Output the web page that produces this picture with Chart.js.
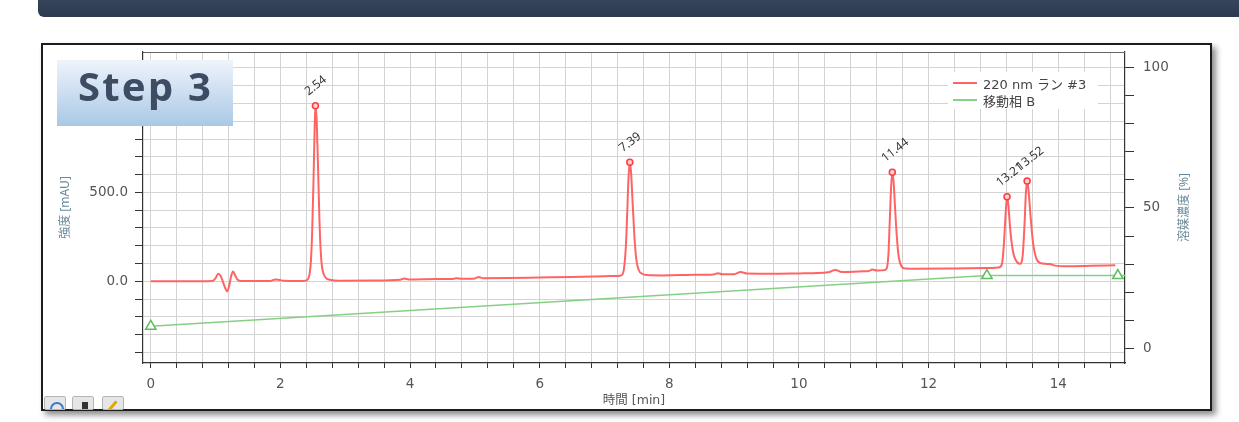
<!DOCTYPE html>
<html lang="ja">
<head>
<meta charset="utf-8">
<title>Step 3 クロマトグラム</title>
<script src="https://cdn.jsdelivr.net/npm/chart.js@4.4.1/dist/chart.umd.min.js"></script>
<style>
  html, body { margin: 0; padding: 0; background: #fff; }
  body { width: 1239px; height: 422px; position: relative; overflow: hidden;
         font-family: "Noto Sans", "Noto Sans CJK JP", sans-serif; }
  #topbar { position: absolute; left: 38px; top: -12px; width: 1230px; height: 29px;
            background: linear-gradient(#3d4c64, #2c3a50); border-radius: 6px; }
  #frame { position: absolute; left: 41px; top: 43px; width: 1167px; height: 364px;
           border: 2px solid #1c1c1c; background: #fff;
           box-shadow: 4px 4px 6px rgba(0,0,0,0.45); }
  #chartBox { position: absolute; left: 0; top: 0; width: 1239px; height: 422px; }
  #badge { position: absolute; left: 57px; top: 60px; width: 176px; height: 66px;
           background: linear-gradient(#eef4fb, #a9c8e6); }
  #badge span { position: absolute; left: 21px; top: 6px; line-height: 40px;
                font-size: 40px; font-weight: bold; color: #3e4c63; letter-spacing: 2.2px; }
  #legend { position: absolute; left: 948px; top: 72px; width: 150px; height: 37px;
            background: #fff; font-size: 13px; color: #444;
            font-family: "DejaVu Sans", "Noto Sans CJK JP", sans-serif; }
  .lg-row { position: absolute; left: 5px; height: 16px; display: flex; align-items: center; }
  .lg-line { width: 24px; height: 2px; margin-right: 6px; }
  .tool { position: absolute; top: 396px; width: 22px; height: 14px; background: #e6e6e6;
          border: 1px solid #b5b5b5; border-radius: 2px; box-sizing: border-box; overflow: hidden; }
</style>
</head>
<body>
<div id="topbar"></div>
<div id="frame"></div>
<div id="chartBox"><canvas id="chart"></canvas></div>
<div id="badge"><span>Step 3</span></div>
<div id="legend"></div>
<div class="tool" style="left:44px"><div style="position:absolute;left:5px;top:5px;width:10px;height:10px;border:2px solid #3a78c8;border-radius:50%"></div></div>
<div class="tool" style="left:72px"><div style="position:absolute;left:9px;top:5px;width:6px;height:8px;background:#333"></div></div>
<div class="tool" style="left:102px"><div style="position:absolute;left:8px;top:3px;width:3px;height:12px;background:#e0a800;transform:rotate(40deg)"></div></div>
<script>
// 220 nm detector trace, run #3
const traceTimes = [
  0, 0.5, 0.95, 1.0, 1.04, 1.08, 1.12, 1.15, 1.18, 1.21, 1.24, 1.27, 1.30, 1.34, 1.40,
  1.6, 1.85, 1.92, 1.97, 2.05, 2.3, 2.38, 2.42, 2.45, 2.47, 2.49, 2.51, 2.53, 2.54,
  2.56, 2.58, 2.60, 2.62, 2.64, 2.67, 2.71, 2.78, 2.9, 3.4, 3.85, 3.91, 3.98, 4.4,
  4.66, 4.72, 4.8, 5.0, 5.06, 5.13, 5.5, 6.0, 6.5, 7.0, 7.2, 7.26, 7.30, 7.33, 7.35,
  7.37, 7.39, 7.41, 7.43, 7.46, 7.49, 7.53, 7.58, 7.66, 7.9, 8.4, 8.68, 8.75, 8.82,
  9.0, 9.1, 9.2, 9.6, 10.0, 10.45, 10.56, 10.66, 11.0, 11.08, 11.13, 11.2, 11.3,
  11.35, 11.38, 11.40, 11.42, 11.44, 11.46, 11.48, 11.51, 11.54, 11.58, 11.64, 11.8,
  12.4, 12.9, 13.08, 13.13, 13.16, 13.19, 13.21, 13.23, 13.26, 13.30, 13.35, 13.41,
  13.45, 13.48, 13.50, 13.52, 13.54, 13.57, 13.61, 13.66, 13.72, 13.80, 13.87, 13.95,
  14.1, 14.5, 14.88
];
const traceSignal = [
  0, 0, 2, 18, 42, 28, -10, -40, -57, -25, 30, 55, 35, 8, 1,
  1, 2, 10, 9, 3, 2, 3, 10, 40, 110, 280, 560, 890, 988,
  900, 650, 370, 180, 85, 38, 16, 7, 3, 4, 9, 15, 10, 12,
  13, 17, 14, 16, 24, 17, 18, 21, 24, 28, 30, 33, 70, 200, 380,
  580, 669, 610, 470, 260, 125, 62, 42, 35, 33, 36, 38, 45, 39,
  40, 52, 43, 42, 44, 50, 64, 52, 56, 58, 66, 60, 62,
  70, 150, 330, 520, 613, 560, 430, 250, 135, 85, 72, 70,
  72, 75, 78, 95, 200, 390, 475, 430, 290, 170, 115, 98,
  140, 320, 490, 564, 520, 380, 220, 130, 103, 98, 97, 88,
  85, 87, 90
];

// Detected peaks: retention time [min] and apex height [mAU]
const peakTimes = [2.54, 7.39, 11.44, 13.21, 13.52];
const peakHeights = [988, 669, 613, 475, 564];

// Mobile phase B program
const gradientTimes = [0, 12.9, 14.92, 15.03];
const gradientPercent = [8, 26, 26, 26];
const gradientMarkers = [true, true, true, false];

// Series names and axis titles
const seriesNames = ['220 nm ラン #3', '移動相 B'];
const xAxisTitle = '時間 [min]';
const yAxisTitle = '強度 [mAU]';
const y2AxisTitle = '溶媒濃度 [%]';

// Tick layout
const xTickStep = 0.4, xTickLast = 14.8, xLabelEvery = 2;
const yTickStep = 100, yTickFirst = -400, yTickLast = 1200, yLabelEvery = 500;
const y2TickStep = 10, y2TickLast = 100, y2LabelEvery = 50;

const redColor = '#ff6464';
const greenColor = '#86d086';
const FONT = "'Noto Sans', 'Noto Sans CJK JP', sans-serif";
const TICK_FONT = "'DejaVu Sans', 'Noto Sans CJK JP', sans-serif";

function tickList(first, last, step) {
  const out = [];
  const n = Math.round((last - first) / step);
  for (let k = 0; k <= n; k++) out.push({ value: Math.round((first + k * step) * 1000) / 1000 });
  return out;
}
function isMultiple(v, m) { return Math.abs(v / m - Math.round(v / m)) < 1e-6; }

const peakLabels = {
  id: 'peakLabels',
  afterDatasetsDraw(chart) {
    const { ctx, scales: { x, y } } = chart;
    ctx.save();
    ctx.font = '12px ' + FONT;
    ctx.fillStyle = '#333';
    ctx.textAlign = 'left';
    ctx.textBaseline = 'alphabetic';
    peakTimes.forEach((t, i) => {
      const px = x.getPixelForValue(t);
      const py = y.getPixelForValue(peakHeights[i]);
      ctx.save();
      ctx.translate(px - 7, py - 10);
      ctx.rotate(-38 * Math.PI / 180);
      ctx.fillText(t.toFixed(2), 0, 0);
      ctx.restore();
    });
    ctx.restore();
  }
};

const plotFrame = {
  id: 'plotFrame',
  afterDraw(chart) {
    const { ctx, chartArea: a } = chart;
    ctx.save();
    ctx.strokeStyle = '#666';
    ctx.lineWidth = 1;
    ctx.beginPath();
    ctx.moveTo(a.left, a.top + 0.5);
    ctx.lineTo(a.right, a.top + 0.5);
    ctx.stroke();
    // right-hand axis title, reading bottom to top
    ctx.font = '12px ' + FONT;
    ctx.fillStyle = '#6a8a9a';
    ctx.textAlign = 'center';
    ctx.textBaseline = 'middle';
    ctx.translate(1185, (a.top + a.bottom) / 2);
    ctx.rotate(-Math.PI / 2);
    ctx.fillText(y2AxisTitle, 0, 0);
    ctx.restore();
  }
};

const tickFont = { family: TICK_FONT, size: 13.5 };
const gridColor = '#d3d3d3';

new Chart(document.getElementById('chart'), {
  type: 'line',
  data: {
    datasets: [
      {
        label: seriesNames[0],
        data: traceTimes.map((t, i) => ({ x: t, y: traceSignal[i] })),
        borderColor: redColor, borderWidth: 2, pointRadius: 0,
        cubicInterpolationMode: 'monotone', yAxisID: 'y', order: 2
      },
      {
        label: seriesNames[1],
        data: gradientTimes.map((t, i) => ({ x: t, y: gradientPercent[i] })),
        borderColor: greenColor, borderWidth: 1.5,
        pointStyle: 'triangle',
        pointRadius: gradientMarkers.map(m => m ? 6 : 0),
        pointBorderColor: '#5cbf5c', pointBackgroundColor: '#ffffff', pointBorderWidth: 1.5,
        tension: 0, yAxisID: 'y2', order: 3
      },
      {
        label: 'peaks',
        data: peakTimes.map((t, i) => ({ x: t, y: peakHeights[i] })),
        showLine: false, pointRadius: 3, pointBorderWidth: 1.5,
        pointBorderColor: '#ff3b3b', pointBackgroundColor: '#ffd4d4',
        yAxisID: 'y', order: 1
      }
    ]
  },
  options: {
    responsive: true, maintainAspectRatio: false, animation: false,
    layout: { padding: { left: 54, right: 43, top: 52, bottom: 10 } },
    plugins: { legend: { display: false }, tooltip: { enabled: false } },
    scales: {
      x: {
        type: 'linear', min: -0.12, max: 15.03,
        afterBuildTicks: s => { s.ticks = tickList(0, xTickLast, xTickStep); },
        afterFit: s => { s.height = 49; },
        ticks: {
          autoSkip: false, maxRotation: 0, padding: 8, color: '#555', font: tickFont,
          callback: v => isMultiple(v, xLabelEvery) ? String(Math.round(v)) : ''
        },
        grid: { color: gridColor, tickColor: '#333', tickLength: 5 },
        border: { color: '#333', width: 1.2 },
        title: { display: true, text: xAxisTitle, color: '#555', font: { family: TICK_FONT, size: 12.5 } }
      },
      y: {
        position: 'left', min: -460, max: 1290,
        afterBuildTicks: s => { s.ticks = tickList(yTickFirst, yTickLast, yTickStep); },
        afterFit: s => { s.width = 89; },
        ticks: {
          autoSkip: false, padding: 7, color: '#555', font: tickFont,
          callback: v => isMultiple(v, yLabelEvery) ? v.toFixed(1) : ''
        },
        grid: { color: gridColor, tickColor: '#333', tickLength: 8 },
        border: { color: '#333', width: 1.2 },
        title: { display: true, text: yAxisTitle, color: '#6a8a9a', font: { family: FONT, size: 12 } }
      },
      y2: {
        position: 'right', min: -5.05, max: 105.4,
        afterBuildTicks: s => { s.ticks = tickList(0, y2TickLast, y2TickStep); },
        afterFit: s => { s.width = 71; },
        ticks: {
          autoSkip: false, padding: 9, color: '#555', font: tickFont,
          callback: v => isMultiple(v, y2LabelEvery) ? String(Math.round(v)) : ''
        },
        grid: { drawOnChartArea: false, tickColor: '#333', tickLength: 9 },
        border: { color: '#333', width: 1.2 }
      }
    }
  },
  plugins: [peakLabels, plotFrame]
});

// Legend box inside the plot
const legend = document.getElementById('legend');
[redColor, greenColor].forEach((c, i) => {
  const row = document.createElement('div');
  row.className = 'lg-row';
  row.style.top = (i === 0 ? 3 : 20) + 'px';
  const line = document.createElement('div');
  line.className = 'lg-line';
  line.style.background = c;
  const txt = document.createElement('span');
  txt.textContent = seriesNames[i];
  row.appendChild(line);
  row.appendChild(txt);
  legend.appendChild(row);
});
</script>
</body>
</html>
